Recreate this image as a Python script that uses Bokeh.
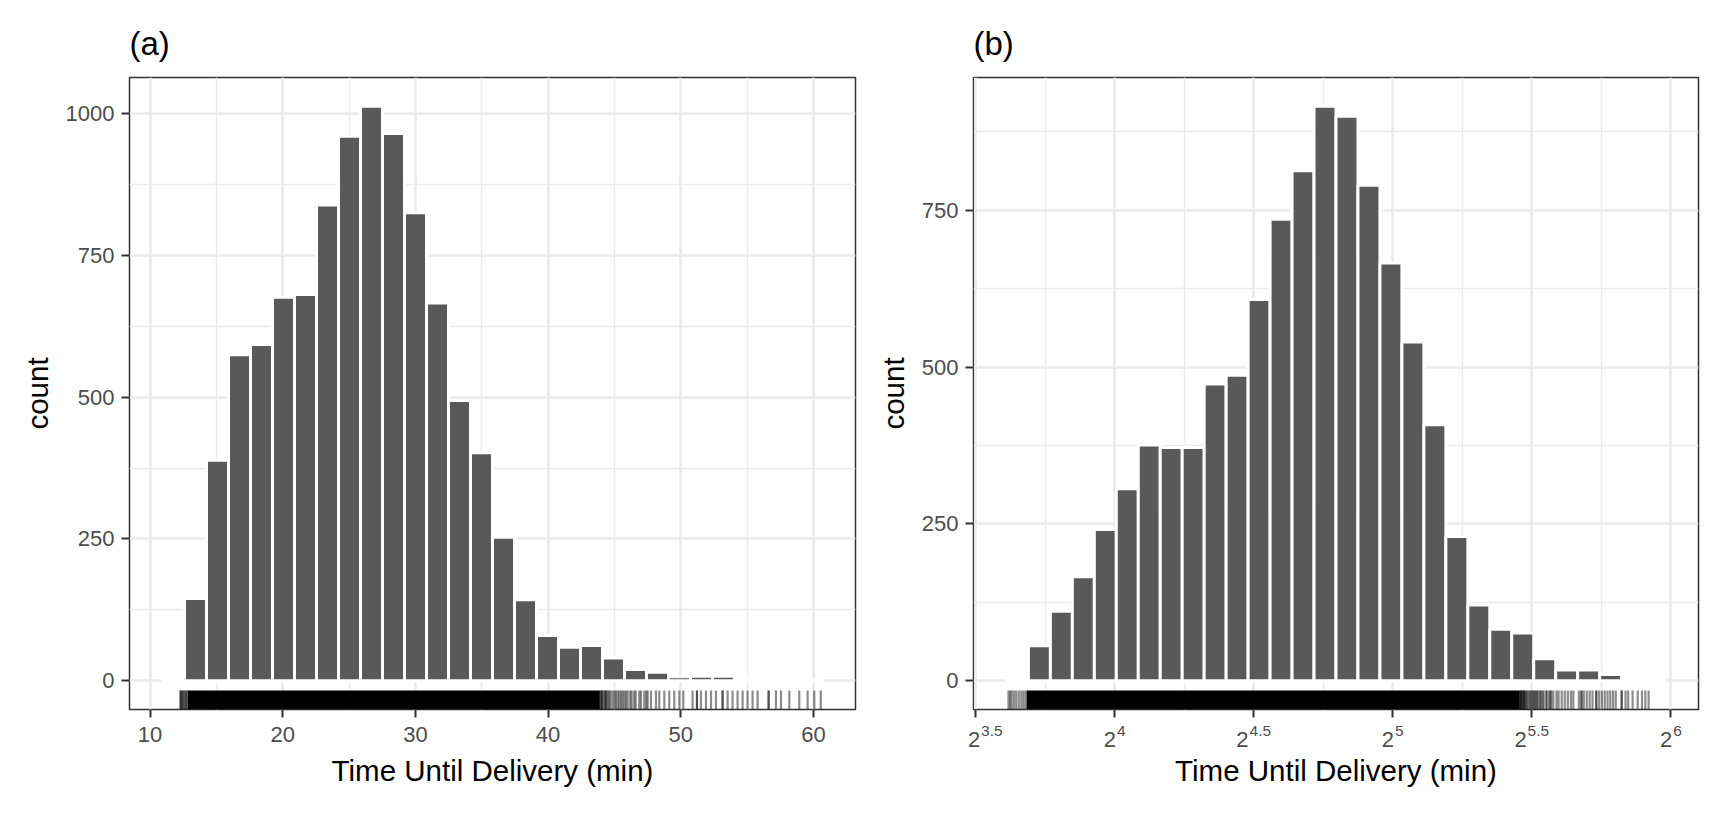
import numpy as np
from bokeh.embed import file_html
from bokeh.layouts import row
from bokeh.models import FixedTicker, LinearAxis, Range1d
from bokeh.plotting import figure
from bokeh.resources import INLINE

# (a) histogram of delivery time, minutes, 30 bins
bin_start_a = 10.94
bin_width_a = 1.658
counts_a = [2, 145, 389, 575, 593, 676, 681, 839, 960, 1013, 965, 825, 666, 494, 402,
            253, 143, 80, 59, 62, 40, 20, 15, 7, 8, 8, 4, 3, 1, 1]

# (b) histogram of log2(delivery time), 30 bins
bin_start_b = 3.611
bin_width_b = 0.079
counts_b = [5, 56, 111, 166, 241, 306, 376, 372, 372, 473, 487, 608, 736, 813, 916,
            900, 790, 666, 540, 408, 230, 121, 82, 76, 35, 17, 17, 10, 4, 1]

# rug (minutes): solid core where observations overlap, plus the sparse ends
rug_core = [12.85, 43.9]
rug_low = [12.28, 12.33, 12.38, 12.45, 12.52, 12.6, 12.68, 12.75, 12.82]
rug_high = [43.95, 44.0, 44.05, 44.1, 44.2, 44.3, 44.35, 44.4, 44.5,
            44.61, 44.7, 44.86, 45.0, 45.11, 45.25, 45.37, 45.5, 45.62, 45.75, 45.87, 46.0,
            46.19, 46.3, 46.49, 46.6, 46.87, 47.0, 47.25, 47.4, 47.5, 47.75, 48.13, 48.38,
            48.76, 49.13, 49.51, 49.89, 50.19, 50.89, 51.22, 51.22, 51.52, 51.9, 52.28,
            52.65, 53.15, 53.15, 53.53, 53.9, 54.28, 54.66, 55.03, 55.41, 55.79, 56.62,
            56.62, 57.17, 57.55, 58.18, 58.93, 59.56, 60.06, 60.55]

x_ticks_a = [10, 20, 30, 40, 50, 60]
x_minor_a = [15, 25, 35, 45, 55]
y_ticks_a = [0, 250, 500, 750, 1000]
x_ticks_b = [3.5, 4, 4.5, 5, 5.5, 6]
x_minor_b = [3.75, 4.25, 4.75, 5.25, 5.75]
exponents_b = ["3.5", "4", "4.5", "5", "5.5", "6"]
y_ticks_b = [0, 250, 500, 750]
y_minor = [125, 375, 625, 875]

FONT = "Liberation Sans"
GREY = "#4D4D4D"
HEIGHT = 800
TOP = 77
BOTTOM = 91
TICK_PX = 22
EXP_PX = 15.5


def panel(title, counts, start, width, rug, core, x_ticks, x_minor, y_ticks,
          fig_width, left, right):
    edges = start + width * np.arange(len(counts) + 1)
    x_lo, x_hi = edges[0], edges[-1]
    x_pad = 0.05 * (x_hi - x_lo)
    y_lo, y_hi = -0.05 * max(counts), 1.05 * max(counts)
    p = figure(width=fig_width, height=HEIGHT, title=title,
               x_range=Range1d(x_lo - x_pad, x_hi + x_pad), y_range=Range1d(y_lo, y_hi),
               output_backend="svg", toolbar_location=None,
               min_border_left=left, min_border_right=right,
               min_border_top=TOP, min_border_bottom=BOTTOM)
    p.quad(left=edges[:-1], right=edges[1:], bottom=0, top=counts,
           fill_color="#595959", line_color="white", line_width=3)

    rug_len = 0.03 * (y_hi - y_lo)
    p.quad(left=[core[0]], right=[core[1]], bottom=y_lo, top=y_lo + rug_len,
           fill_color="black", line_color=None)
    p.segment(x0=rug, x1=rug, y0=y_lo, y1=y_lo + rug_len,
              line_color="black", line_alpha=0.45, line_width=2.2)

    p.outline_line_color = "#333333"
    p.outline_line_width = 1.5
    p.title.text_font = FONT
    p.title.text_font_size = "33px"
    p.title.text_font_style = "normal"
    p.title.text_color = "black"
    p.title.align = "left"
    p.title.standoff = 31

    p.xaxis.ticker = FixedTicker(ticks=x_ticks, minor_ticks=x_minor)
    p.yaxis.ticker = FixedTicker(ticks=y_ticks, minor_ticks=y_minor)
    for grid in (p.xgrid, p.ygrid):
        grid.grid_line_color = "#EBEBEB"
        grid.grid_line_width = 2.7
        grid.minor_grid_line_color = "#EBEBEB"
        grid.minor_grid_line_width = 1.4
    for ax in (p.xaxis, p.yaxis):
        ax.axis_line_color = None
        ax.major_tick_line_color = "#333333"
        ax.major_tick_line_width = 2
        ax.major_tick_out = 8
        ax.major_tick_in = 0
        ax.minor_tick_line_color = None
        ax.major_label_text_font = FONT
        ax.major_label_text_font_size = f"{TICK_PX}px"
        ax.major_label_text_color = GREY
        ax.axis_label_text_font = FONT
        ax.axis_label_text_font_size = "29.5px"
        ax.axis_label_text_font_style = "normal"
        ax.axis_label_text_color = "black"
    p.xaxis.axis_label = "Time Until Delivery (min)"
    p.yaxis.axis_label = "count"
    p.xaxis.major_label_standoff = 9
    p.yaxis.major_label_standoff = 7
    p.xaxis.axis_label_standoff = 9
    p.yaxis.axis_label_standoff = 9
    return p


def label_axis(ticks, labels, size, standoff):
    ax = LinearAxis(ticker=FixedTicker(ticks=ticks),
                    major_label_overrides=dict(zip(ticks, labels)))
    ax.axis_line_color = None
    ax.major_tick_line_color = None
    ax.minor_tick_line_color = None
    ax.major_tick_out = 0
    ax.major_tick_in = 0
    ax.major_label_standoff = standoff
    ax.major_label_text_font = FONT
    ax.major_label_text_font_size = f"{size}px"
    ax.major_label_text_color = GREY
    return ax


rug_a = rug_low + rug_high
pa = panel("(a)", counts_a, bin_start_a, bin_width_a, rug_a, rug_core,
           x_ticks_a, x_minor_a, y_ticks_a, 866, 129, 11)

WIDTH_B, LEFT_B, RIGHT_B = 846, 107, 14
pb = panel("(b)", counts_b, bin_start_b, bin_width_b, np.log2(rug_a),
           np.log2(rug_core), x_ticks_b, x_minor_b, y_ticks_b, WIDTH_B, LEFT_B, RIGHT_B)

# x tick labels of (b) are 2 with a raised exponent: the tick axis keeps the marks,
# two label-only axes carry the base and the exponent
pb.xaxis.major_label_overrides = {t: "" for t in x_ticks_b}
pb.xaxis.major_label_text_font_size = "1px"
pb.xaxis.major_label_standoff = 0
pb.xaxis.axis_label = None
px_per_unit = (WIDTH_B - LEFT_B - RIGHT_B) / (pb.x_range.end - pb.x_range.start)
base_w = 0.556 * TICK_PX
base_ticks, exp_ticks = [], []
for tick, ex in zip(x_ticks_b, exponents_b):
    ex_w = sum(0.278 if ch == "." else 0.556 for ch in ex) * EXP_PX
    total = base_w + 1 + ex_w
    base_px = -total / 2 + base_w / 2
    # a label centre left of the frame would be dropped; nudge it inside
    shift = max(0.0, (pb.x_range.start - tick) * px_per_unit + 0.5 - base_px)
    base_ticks.append(round(tick + (base_px + shift) / px_per_unit, 5))
    exp_ticks.append(round(tick + (-total / 2 + base_w + 1 + ex_w / 2 + shift) / px_per_unit, 5))

exp_axis = label_axis(exp_ticks, exponents_b, EXP_PX, 8)
base_axis = label_axis(base_ticks, ["2"] * len(base_ticks), TICK_PX, -7)
base_axis.axis_label = "Time Until Delivery (min)"
base_axis.axis_label_text_font = FONT
base_axis.axis_label_text_font_size = "29.5px"
base_axis.axis_label_text_font_style = "normal"
base_axis.axis_label_text_color = "black"
base_axis.axis_label_standoff = 4
pb.add_layout(exp_axis, "below")
pb.add_layout(base_axis, "below")

layout = row(pa, pb)
open("out.html", "w").write(file_html(layout, INLINE))
